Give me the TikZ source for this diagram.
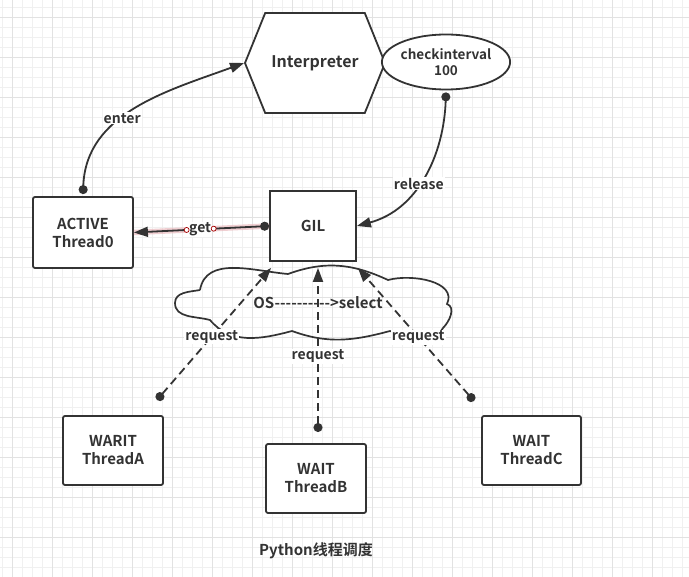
\documentclass[tikz,border=0pt]{standalone}
\usepackage{fontspec}
\newfontfamily\notofont{Noto Sans CJK SC}[BoldFont={Noto Sans CJK SC Bold}]
\usetikzlibrary{arrows.meta, shapes.geometric, shapes.symbols, positioning}
\definecolor{ink}{HTML}{333333}
\definecolor{gridminor}{HTML}{F0F0F0}
\definecolor{gridmajor}{HTML}{E2E2E2}
\definecolor{glow}{HTML}{E6B0B4}
\tikzset{
    block/.style={draw=ink, line width=1.8pt, fill=white, text=ink, align=center,
        inner sep=0pt, font={\notofont\bfseries\fontsize{15}{18}\selectfont}},
    hexa/.style={block, signal, signal to=east and west, signal from=nowhere,
        signal pointer angle=136, minimum width=140pt, minimum height=100pt,
        font={\notofont\bfseries\fontsize{16}{19}\selectfont}},
    oval/.style={block, ellipse, minimum width=120pt, minimum height=55pt,
        font={\notofont\bfseries\fontsize{13.5}{16}\selectfont}},
    cloudline/.style={draw=ink, line width=1.7pt},
    lbl/.style={fill=white, text=ink, inner sep=1pt,
        font={\notofont\bfseries\fontsize{14}{16}\selectfont}},
    caption/.style={text=ink, font={\notofont\bfseries\fontsize{15}{18}\selectfont}},
    handle/.style={circle, draw=red!65!black, fill=white, inner sep=0pt,
        minimum size=5pt, line width=0.7pt},
    link/.style={draw=ink, line width=1.8pt,
        arrows={Circle[length=9pt]-Triangle[length=14pt, width=10pt]}},
    req/.style={link, dash pattern=on 8pt off 5pt},
    getglow/.style={preaction={draw=glow, line width=5.5pt, opacity=0.6, arrows=-}}
}
\begin{document}
\begin{tikzpicture}[x=1pt, y=1pt]
    % paper with grid
    \fill[white] (0,0) rectangle (689,-577);
    \useasboundingbox (0,0) rectangle (689,-577);
    \foreach \x in {2,12,...,682} \draw[gridminor, line width=0.8pt] (\x,0) -- (\x,-577);
    \foreach \y in {7,17,...,577} \draw[gridminor, line width=0.8pt] (0,-\y) -- (689,-\y);
    \foreach \x in {12,52,...,652} \draw[gridmajor, line width=0.8pt] (\x,0) -- (\x,-577);
    \foreach \y in {17,57,...,577} \draw[gridmajor, line width=0.8pt] (0,-\y) -- (689,-\y);

    % OS cloud
    \draw[cloudline] (200,-290) to[out=80, in=175] (288,-274)
        to[out=20, in=155] (388,-280)
        to[out=15, in=65] (447,-304)
        to[out=-20, in=45] (443,-328)
        to[out=-120, in=-15] (390,-331)
        to[out=-165, in=-20] (292,-331)
        to[out=-165, in=-50] (210,-320)
        to[out=165, in=-90] (175,-303)
        to[out=90, in=190] (200,-290);

    % shapes
    \node[hexa] (interp) at (315,-63) {Interpreter};
    \node[oval] (check) at (446,-62) {checkinterval\\100};
    \node[block, rounded corners=2pt, minimum width=100pt, minimum height=71pt] (thread0) at (83,-232.5) {ACTIVE\\Thread0};
    \node[block, minimum width=86pt, minimum height=70pt] (gil) at (313,-226) {GIL};
    \node[lbl, fill=none, font={\notofont\bfseries\fontsize{15}{18}\selectfont}] (os) at (318,-303) {OS---------->select};
    \node[block, rounded corners=2pt, minimum width=100pt, minimum height=69pt] (threadA) at (113,-450.5) {WARIT\\ThreadA};
    \node[block, rounded corners=2pt, minimum width=100pt, minimum height=69pt] (threadB) at (316,-478.5) {WAIT\\ThreadB};
    \node[block, rounded corners=2pt, minimum width=99pt, minimum height=69pt] (threadC) at (531.5,-450.5) {WAIT\\ThreadC};
    \node[caption] (title) at (316,-551) {Python线程调度};

    % free ends of the requests
    \coordinate (reqA) at (157,-400);
    \coordinate (reqB) at (318,-432);
    \coordinate (reqC) at (474,-401);

    % connectors
    \draw[link] ([yshift=2pt]thread0.north) to[out=88, in=200] node[lbl, pos=0.42] {enter} (interp.west);
    \draw[link] ([yshift=-2pt]check.south) to[out=-92, in=15] node[lbl, pos=0.55] {release} (gil.east);
    \draw[link, getglow] (gil.west) -- node[lbl, pos=0.51] {get} node[handle, pos=0.41] {} node[handle, pos=0.61] {} (thread0.east);
    \draw[req] (reqA) -- node[lbl, pos=0.48] {request} ([xshift=2pt, yshift=-6pt]gil.south west);
    \draw[req] (reqB) -- node[lbl, pos=0.46] {request} ([xshift=5pt, yshift=-6pt]gil.south);
    \draw[req] (reqC) -- node[lbl, pos=0.48] {request} ([xshift=1pt, yshift=-6pt]gil.south east);
\end{tikzpicture}
\end{document}
